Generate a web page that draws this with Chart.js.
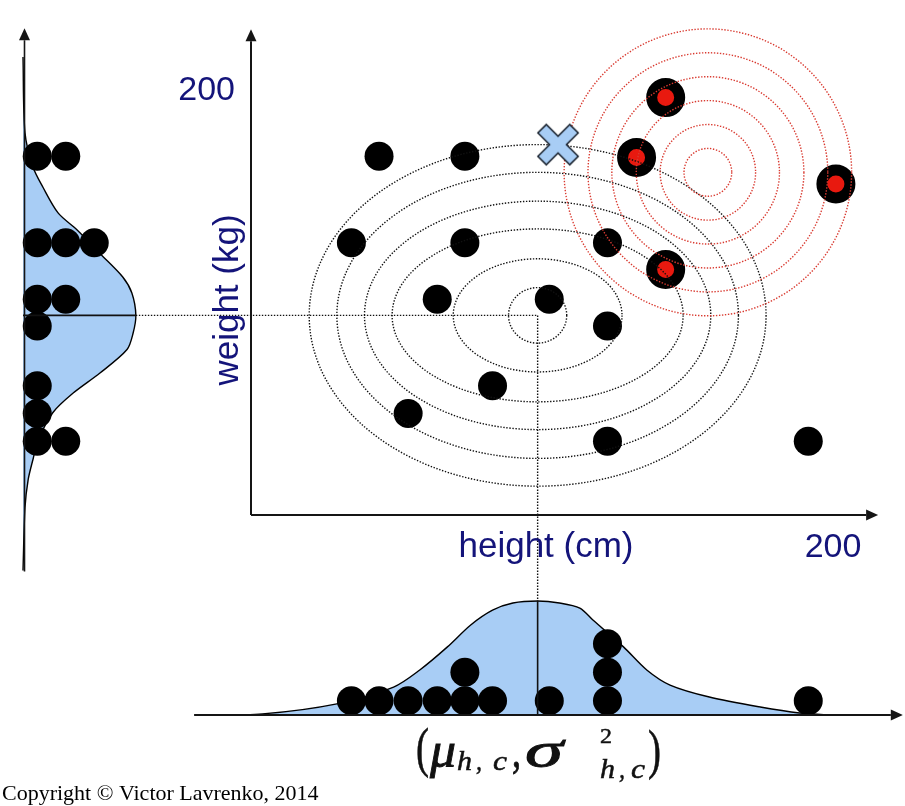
<!DOCTYPE html>
<html>
<head>
<meta charset="utf-8">
<script src="https://cdn.jsdelivr.net/npm/chart.js@4.4.1/dist/chart.umd.min.js"></script>
<style>
  html, body { margin: 0; padding: 0; background: #fff; }
  #wrap { width: 905px; height: 806px; }
</style>
</head>
<body>
<div id="wrap"><canvas id="gaussChart" width="905" height="806"></canvas></div>
<script>
// class c: training points (height in cm, weight in kg)
const heights = [44, 73.5, 34.5, 73.5, 122.5, 64, 102.5, 122.5, 83, 54, 122.5, 191.5];
const weights = [168, 168, 127.5, 127.5, 127.5, 101, 101, 88.5, 60.5, 47.5, 34.5, 34.5];

// the other class (red centre)
const otherHeights = [142.5, 132.5, 201, 142.5];
const otherWeights = [195.5, 167.5, 155, 115];

// new point to classify
const testHeights = [105.5];
const testWeights = [173.5];

// fitted gaussian for class c: mean and contour radii
const meanH = 98.5;
const meanW = 93.5;
const contourRx = [10, 29, 50, 59.5, 69, 78.5];
const contourRy = [13, 26.5, 40.5, 53.5, 67, 80];

// gaussian of the other class
const otherMeanH = 157;
const otherMeanW = 160.5;
const otherRx = [8.2, 16.4, 24.6, 33, 41.2, 49.4];
const otherRy = [11.2, 22.4, 33.6, 44.8, 56, 67.2];

// marginal density of height (in stacked-dot units)
const densH = [-19.5, 4, 29.5, 49, 58, 67.5, 75.5, 83, 90, 98.5, 106, 113, 117.5, 128, 136, 144, 157.5, 175, 188.5, 199];
const densHVal = [0, 0.04, 0.39, 0.98, 1.58, 2.39, 3.16, 3.68, 3.93, 4, 3.93, 3.75, 3.33, 2.39, 1.58, 1.05, 0.63, 0.28, 0.07, 0];

// marginal density of weight
const densW = [214.5, 179, 163, 153.5, 141.5, 133.5, 122.5, 111.5, 104, 93.5, 85, 77.5, 66.5, 57, 48, 35, 26, 16.5, 3.5, -26];
const densWVal = [0, 0.07, 0.35, 0.7, 1.23, 1.9, 2.7, 3.5, 3.82, 3.96, 3.86, 3.65, 2.7, 1.75, 1.05, 0.53, 0.35, 0.18, 0.07, 0];

// tick labels
const xTicks = [200];
const yTicks = [200];

const NAVY = "#14147a";
const BLUE = "#a8cdf5";
const RED = "#e8190f";
const W = 905, H = 806;

// linear scale spanning the whole canvas, pinned by two value/pixel pairs
function hScale(v0, p0, v1, p1) {
  const k = (p1 - p0) / (v1 - v0);
  const min = v0 - p0 / k;
  return { type: "linear", axis: "x", display: false, min: min, max: min + W / k };
}
function vScale(v0, p0, v1, p1) {
  const k = (p0 - p1) / (v1 - v0);
  const min = v0 - (H - p0) / k;
  return { type: "linear", axis: "y", display: false, min: min, max: min + H / k };
}

// stack equal values on top of each other (centre of each dot)
function stackDots(values) {
  const seen = {};
  return values.map((v) => {
    seen[v] = (seen[v] || 0) + 1;
    return seen[v] - 0.5;
  });
}
const stackH = stackDots(heights);
const stackW = stackDots(weights);

// light blue cross with dark outline
function makeCross() {
  const c = document.createElement("canvas");
  c.width = 48;
  c.height = 48;
  const g = c.getContext("2d");
  g.translate(24, 24);
  g.lineCap = "butt";
  const arm = (s) => [[-s, -s, s, s], [-s, s, s, -s]];
  g.strokeStyle = "#1b2430";
  g.lineWidth = 13.5;
  arm(16.5).forEach((a) => { g.beginPath(); g.moveTo(a[0], a[1]); g.lineTo(a[2], a[3]); g.stroke(); });
  g.strokeStyle = BLUE;
  g.lineWidth = 10.5;
  arm(15.4).forEach((a) => { g.beginPath(); g.moveTo(a[0], a[1]); g.lineTo(a[2], a[3]); g.stroke(); });
  return c;
}

function arrowLine(ctx, x0, y0, x1, y1) {
  const ang = Math.atan2(y1 - y0, x1 - x0);
  const len = 12, half = 5.5;
  ctx.beginPath();
  ctx.moveTo(x0, y0);
  ctx.lineTo(x1 - Math.cos(ang) * len, y1 - Math.sin(ang) * len);
  ctx.stroke();
  ctx.beginPath();
  ctx.moveTo(x1, y1);
  ctx.lineTo(x1 - Math.cos(ang) * len - Math.sin(ang) * half, y1 - Math.sin(ang) * len + Math.cos(ang) * half);
  ctx.lineTo(x1 - Math.cos(ang) * len + Math.sin(ang) * half, y1 - Math.sin(ang) * len - Math.cos(ang) * half);
  ctx.closePath();
  ctx.fill();
}

function ellipses(ctx, sx, sy, cx, cy, rxs, rys, color) {
  ctx.save();
  ctx.strokeStyle = color;
  ctx.lineWidth = 1.4;
  ctx.setLineDash([1.4, 1.6]);
  rxs.forEach((rx, i) => {
    const px = sx.getPixelForValue(cx), py = sy.getPixelForValue(cy);
    const rpx = Math.abs(sx.getPixelForValue(cx + rx) - px);
    const rpy = Math.abs(sy.getPixelForValue(cy + rys[i]) - py);
    ctx.beginPath();
    ctx.ellipse(px, py, rpx, rpy, 0, 0, Math.PI * 2);
    ctx.stroke();
  });
  ctx.restore();
}

// text squeezed/stretched to a given width, slightly emboldened
function fitText(ctx, text, font, x, y, width, weight) {
  ctx.font = font;
  const w = ctx.measureText(text).width;
  ctx.save();
  ctx.translate(x, y);
  ctx.scale(width / w, 1);
  ctx.fillText(text, 0, 0);
  if (weight) {
    ctx.lineWidth = weight;
    ctx.strokeText(text, 0, 0);
  }
  ctx.restore();
}

const peakW = Math.max(...densWVal);
const peakH = Math.max(...densHVal);

const diagram = {
  id: "diagram",
  afterDatasetDraw(chart, args) {
    if (args.index !== 1) return;
    const { ctx, scales } = chart;
    const { x, y, xm, ym } = scales;
    ellipses(ctx, x, y, meanH, meanW, contourRx, contourRy, "#111");
    ellipses(ctx, x, y, otherMeanH, otherMeanW, otherRx, otherRy, "#d93a30");

    const mx = x.getPixelForValue(meanH), my = y.getPixelForValue(meanW);
    ctx.save();
    ctx.strokeStyle = "#111";
    ctx.lineWidth = 1.4;
    ctx.setLineDash([1.4, 1.6]);
    ctx.beginPath();
    ctx.moveTo(xm.getPixelForValue(peakW), my);
    ctx.lineTo(mx, my);
    ctx.lineTo(mx, ym.getPixelForValue(peakH));
    ctx.stroke();
    ctx.setLineDash([]);
    ctx.lineWidth = 1.6;
    ctx.beginPath();
    ctx.moveTo(xm.getPixelForValue(0), my);
    ctx.lineTo(xm.getPixelForValue(peakW), my);
    ctx.moveTo(mx, ym.getPixelForValue(0));
    ctx.lineTo(mx, ym.getPixelForValue(peakH));
    ctx.stroke();
    ctx.restore();
  },
  afterDatasetsDraw(chart) {
    const { ctx, scales } = chart;
    const { x, y, xm, ym } = scales;
    ctx.save();
    ctx.strokeStyle = "#151515";
    ctx.fillStyle = "#151515";
    ctx.lineWidth = 2;
    // main axes
    arrowLine(ctx, x.getPixelForValue(0), y.getPixelForValue(0), x.getPixelForValue(0), y.getPixelForValue(227.5));
    arrowLine(ctx, x.getPixelForValue(0), y.getPixelForValue(0), x.getPixelForValue(215.5), y.getPixelForValue(0));
    // marginal axes
    arrowLine(ctx, x.getPixelForValue(-19.5), ym.getPixelForValue(0), x.getPixelForValue(224), ym.getPixelForValue(0));
    ctx.lineWidth = 1.6;
    arrowLine(ctx, xm.getPixelForValue(0) + 1.5, y.getPixelForValue(-26.5), xm.getPixelForValue(0) + 1.5, y.getPixelForValue(228));
    ctx.restore();
  },
  afterDraw(chart) {
    const { ctx, scales } = chart;
    const { x, y } = scales;
    ctx.save();
    ctx.fillStyle = NAVY;
    ctx.font = '34px "Liberation Sans", Arial, sans-serif';
    ctx.textBaseline = "alphabetic";
    ctx.textAlign = "right";
    yTicks.forEach((t) => ctx.fillText(String(t), x.getPixelForValue(0) - 16, y.getPixelForValue(t) + 12));
    ctx.textAlign = "center";
    xTicks.forEach((t) => ctx.fillText(String(t), x.getPixelForValue(t), y.getPixelForValue(0) + 42));
    ctx.font = '35px "Liberation Sans", Arial, sans-serif';
    ctx.fillText("height (cm)", 546, 557);
    ctx.save();
    ctx.translate(238, 300);
    ctx.rotate(-Math.PI / 2);
    ctx.fillText("weight (kg)", 0, 0);
    ctx.restore();

    // (mu_{h,c}, sigma^2_{h,c})
    ctx.fillStyle = "#111";
    ctx.strokeStyle = "#111";
    ctx.textAlign = "left";
    const serif = '"Liberation Serif", "Times New Roman", serif';
    const big = "italic 50px " + serif;
    const sub = "italic 27px " + serif;
    fitText(ctx, "(", "54px " + serif, 416, 766, 13, 0.6);
    fitText(ctx, "\u03bc", big, 430, 767, 26, 0.9);
    fitText(ctx, "h", sub, 457, 770, 15, 0.5);
    fitText(ctx, ",", sub, 476, 770, 6, 0.5);
    fitText(ctx, "c", sub, 493, 770, 14, 0.5);
    fitText(ctx, ",", "46px " + serif, 512, 767, 9, 0.8);
    fitText(ctx, "\u03c3", big, 525, 767, 38, 0.9);
    fitText(ctx, "2", "22px " + serif, 600, 743, 12, 0.5);
    fitText(ctx, "h", sub, 600, 778, 15, 0.5);
    fitText(ctx, ",", sub, 619, 778, 6, 0.5);
    fitText(ctx, "c", sub, 631, 778, 14, 0.5);
    fitText(ctx, ")", "54px " + serif, 648, 768, 13, 0.6);

    ctx.font = "22px " + serif;
    ctx.fillStyle = "#000";
    ctx.fillText("Copyright \u00a9 Victor Lavrenko, 2014", 2, 800);
    ctx.restore();
  },
};

const ctx = document.getElementById("gaussChart").getContext("2d");
const gaussChart = new Chart(ctx, {
  type: "scatter",
  data: {
    datasets: [
      {
        label: "test",
        data: testHeights.map((h, i) => ({ x: h, y: testWeights[i] })),
        pointStyle: makeCross(),
        pointRadius: 20,
      },
      {
        label: "other class",
        data: otherHeights.map((h, i) => ({ x: h, y: otherWeights[i] })),
        pointRadius: 14,
        backgroundColor: RED,
        borderColor: "#000",
        borderWidth: 11,
      },
      {
        label: "class c",
        data: heights.map((h, i) => ({ x: h, y: weights[i] })),
        pointRadius: 14.5,
        backgroundColor: "#000",
        borderWidth: 0,
      },
      {
        label: "height dots",
        data: heights.map((h, i) => ({ x: h, y: stackH[i] })),
        yAxisID: "ym",
        pointRadius: 14.5,
        backgroundColor: "#000",
        borderWidth: 0,
      },
      {
        label: "weight dots",
        data: weights.map((w, i) => ({ x: stackW[i], y: w })),
        xAxisID: "xm",
        pointRadius: 14.5,
        backgroundColor: "#000",
        borderWidth: 0,
      },
      {
        label: "height density",
        data: densH.map((h, i) => ({ x: h, y: densHVal[i] })),
        yAxisID: "ym",
        showLine: true,
        fill: "shape",
        tension: 0.3,
        pointRadius: 0,
        borderColor: "#000",
        borderWidth: 1.4,
        backgroundColor: BLUE,
      },
      {
        label: "weight density",
        data: densW.map((w, i) => ({ x: densWVal[i], y: w })),
        xAxisID: "xm",
        showLine: true,
        fill: "shape",
        tension: 0.3,
        pointRadius: 0,
        borderColor: "#000",
        borderWidth: 1.4,
        backgroundColor: BLUE,
      },
    ],
  },
  options: {
    responsive: false,
    animation: false,
    events: [],
    layout: { padding: 0, autoPadding: false },
    plugins: { legend: { display: false }, tooltip: { enabled: false } },
    scales: {
      x: hScale(0, 251, 200, 833),
      y: vScale(0, 515, 200, 88),
      xm: hScale(0, 23, 1, 51.5),
      ym: vScale(0, 715, 1, 686.5),
    },
  },
  plugins: [diagram],
});
</script>
</body>
</html>
